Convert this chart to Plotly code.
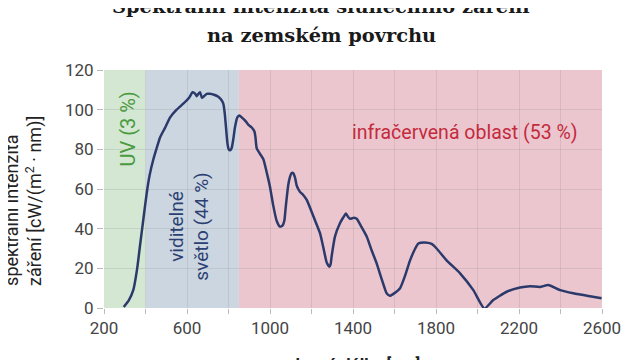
import plotly.graph_objects as go

# data
wavelength_nm = [295, 320, 341, 360, 373, 390, 406, 420, 438, 455, 470, 495, 518, 550, 582, 610, 627, 640,
                 647, 655, 663, 672, 679, 695, 711, 730, 751, 765, 775, 782, 788, 795, 801, 808, 815, 823,
                 831, 842, 852, 865, 880, 895, 912, 925, 930, 936, 950, 968, 985, 1000, 1015, 1032, 1048,
                 1060, 1069, 1075, 1080, 1088, 1096, 1104, 1112, 1120, 1128, 1136, 1145, 1160, 1177, 1210,
                 1241, 1260, 1273, 1286, 1292, 1297, 1313, 1337, 1352, 1366, 1376, 1386, 1405, 1418, 1440,
                 1466, 1490, 1514, 1540, 1562, 1578, 1600, 1627, 1650, 1675, 1700, 1715, 1745, 1779, 1803,
                 1851, 1916, 1980, 2033, 2076, 2141, 2205, 2253, 2301, 2341, 2398, 2462, 2542, 2598]
intensity = [0.5, 4, 9, 20, 31, 45, 58, 67, 75, 81, 86, 91, 96, 100, 103, 106, 108.8, 108,
             106.8, 108, 108.8, 106, 106.5, 108, 108, 107.5, 106.5, 105, 103, 98, 91, 83, 80, 79.5, 80.5, 85,
             91, 96, 97, 96, 94.5, 92.5, 91, 89, 86, 80.5, 78, 75, 68, 61, 52, 44, 41,
             41.5, 44, 50, 55, 62, 66, 68, 68, 66, 62, 60, 58.5, 57, 54.5, 46,
             37.7, 29, 23, 20.8, 22, 26, 36, 42.7, 45.5, 47.7, 46, 45, 45.5, 45, 41,
             36, 29, 22.5, 14, 7.4, 6.2, 7.5, 10, 16, 24, 30, 32.5, 33, 32.3, 30,
             24, 17.5, 9, -0.3, 4, 8.2, 10.3, 11, 10.6, 11.6, 9, 7.4, 5.9, 4.9]

region_names = ["UV (3 %)", "viditelné<br>světlo (44 %)", "infračervená oblast (53 %)"]
region_start = [200, 400, 850]
region_end = [400, 850, 2600]
region_fill = ["#d4e7d3", "#ccd6e1", "#ebc6cf"]
region_text_color = ["#4a9a3f", "#2b3f73", "#c42a3c"]

title_lines = ["Spektrální intenzita slunečního záření", "na zemském povrchu"]

x_tickvals = [200, 400, 600, 800, 1000, 1200, 1400, 1600, 1800, 2000, 2200, 2400, 2600]
x_ticktext = ["200", "", "600", "", "1000", "", "1400", "", "1800", "", "2200", "", "2600"]
y_tickvals = [0, 20, 40, 60, 80, 100, 120]

FONT = "Roboto"

fig = go.Figure()
fig.add_trace(go.Scatter(x=wavelength_nm, y=intensity, mode="lines",
                         line=dict(color="#2b3a6b", width=2.5, shape="spline", smoothing=0.5),
                         hoverinfo="skip", showlegend=False))

for s, e, c in zip(region_start, region_end, region_fill):
    fig.add_shape(type="rect", xref="x", yref="y", x0=s, x1=e, y0=0, y1=120,
                  fillcolor=c, line=dict(width=0), layer="below")

# region labels
fig.add_annotation(x=311, y=90, xref="x", yref="y", text=region_names[0], textangle=-90,
                   showarrow=False, font=dict(family=FONT, size=20, color=region_text_color[0]))
fig.add_annotation(x=610, y=41, xref="x", yref="y", text=region_names[1], textangle=-90,
                   showarrow=False, align="center",
                   font=dict(family=FONT, size=19, color=region_text_color[1]))
fig.add_annotation(x=1940, y=88.7, xref="x", yref="y", text=region_names[2],
                   showarrow=False, font=dict(family=FONT, size=19.5, color=region_text_color[2]))

# axis titles
fig.add_annotation(x=0, xref="paper", xshift=-80, xanchor="center", y=0.45, yref="paper", textangle=-90,
                   text="spektrální intenzita<br>záření [cW/(m<sup>2</sup> · nm)]", align="left",
                   showarrow=False, font=dict(family=FONT, size=18, color="#222"))
fig.add_annotation(x=0.5, xref="paper", y=0, yref="paper", yshift=-44, yanchor="top",
                   text="<b>vlnová délka [nm]</b>", showarrow=False,
                   font=dict(family=FONT, size=17, color="#222"))

# title lines (centred on the page, not on the plot area)
fig.add_annotation(x=0.436, xref="paper", y=1, yref="paper", yshift=50, yanchor="bottom",
                   text="<b>" + title_lines[0] + "</b>", showarrow=False,
                   font=dict(family="DejaVu Serif", size=19.4, color="#1a1a1a"))
fig.add_annotation(x=0.436, xref="paper", y=1, yref="paper", yshift=21, yanchor="bottom",
                   text="<b>" + title_lines[1] + "</b>", showarrow=False,
                   font=dict(family="DejaVu Serif", size=19.4, color="#1a1a1a"))

# the page body adds an 8 px offset, so margins compensate for it
fig.update_layout(
    width=640, height=360,
    margin=dict(l=96, r=46, t=62, b=60, autoexpand=False),
    paper_bgcolor="white", plot_bgcolor="white",
    showlegend=False,
)
fig.update_xaxes(range=[200, 2600], tickvals=x_tickvals, ticktext=x_ticktext,
                 showgrid=True, gridcolor="rgba(120,120,120,0.18)", gridwidth=1,
                 zeroline=False, showline=False, ticks="outside", ticklen=5,
                 tickcolor="#bbbbbb", tickfont=dict(family=FONT, size=17, color="#444"))
fig.update_yaxes(range=[0, 120], tickvals=y_tickvals,
                 showgrid=True, gridcolor="rgba(120,120,120,0.18)", gridwidth=1,
                 zeroline=False, showline=False, ticks="outside", ticklen=6,
                 tickcolor="#bbbbbb", tickfont=dict(family=FONT, size=17, color="#444"))

fig.write_html("out.html")
